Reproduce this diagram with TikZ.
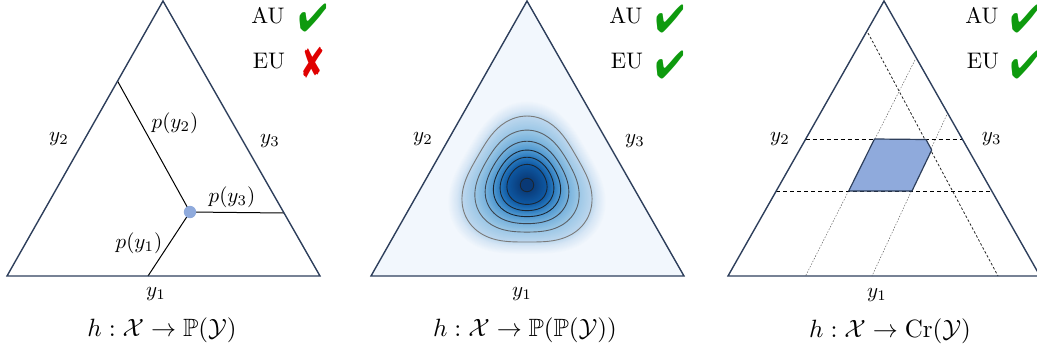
\documentclass[tikz,border=0pt]{standalone}
\usepackage{amssymb}
\usepackage{pifont}
\definecolor{navy}{HTML}{2E3F5C}
\definecolor{okgreen}{HTML}{0E9A0E}
\definecolor{nored}{HTML}{E00000}
\definecolor{dotblue}{HTML}{8FAADC}
\definecolor{bgblue}{HTML}{F2F7FD}
\definecolor{b0}{HTML}{D6E6F5}
\definecolor{b1}{HTML}{BCD7EE}
\definecolor{b2}{HTML}{9BC7E6}
\definecolor{b3}{HTML}{76B1DC}
\definecolor{b4}{HTML}{4E97D0}
\definecolor{b5}{HTML}{2777BD}
\definecolor{b6}{HTML}{0E58A2}
\definecolor{b7}{HTML}{093672}
\definecolor{cA}{HTML}{7A7A7A}
\definecolor{cB}{HTML}{5C6268}
\definecolor{cC}{HTML}{3A4450}
\definecolor{cD}{HTML}{1A2633}
\tikzset{
  tri/.style={draw=navy, line width=1.4pt, line join=miter},
  seg/.style={draw=black, line width=1pt},
  lab/.style={font=\normalsize, inner sep=0pt, scale=2.1},
  capt/.style={font=\normalsize, inner sep=0pt, scale=2.5},
  unc/.style={font=\normalsize, inner sep=0pt, scale=2.25},
  okmark/.style={text=okgreen, font=\normalsize, inner sep=0pt, scale=3.9},
  nomark/.style={text=nored, font=\normalsize, inner sep=0pt, scale=4.3},
  hdash/.style={draw=black, line width=0.8pt, dash pattern=on 4pt off 3pt},
  adash/.style={draw=black!85, line width=0.8pt, dash pattern=on 2.5pt off 2pt},
  bdot/.style={draw=black!60, line width=0.5pt, dash pattern=on 1.5pt off 1.5pt},
  cont/.style={line width=0.9pt}
}
\newcommand{\yes}{\scalebox{0.88}[1]{\ding{52}}}
\newcommand{\nope}{\scalebox{0.74}[1]{\ding{56}}}
% rounded triangle contour of radius #1, triangularity #2
\newcommand{\rtri}[2]{plot[smooth cycle, domain=0:354, samples=60]
  ({#1*(1+#2*cos(3*(\x-90)))*cos(\x)}, {-#1*(1+#2*cos(3*(\x-90)))*sin(\x)})}
% band of nested fills from radius #1 (colour #3) to radius #2 (colour #4), #5 steps
\newcommand{\band}[5]{%
  \foreach \j in {0,...,#5}{%
    \pgfmathsetmacro\R{#1-(#1-#2)*\j/(#5+1)}%
    \pgfmathsetmacro\a{0.095*min(1,\R/63)}%
    \pgfmathsetmacro\p{100*\j/(#5+1)}%
    \colorlet{lc}{#4!\p!#3}%
    \fill[lc] \rtri{\R}{\a};%
  }}
\begin{document}
\begin{tikzpicture}[x=1pt,y=-1pt]
\useasboundingbox (0,0) rectangle (1037,354);

% ---------------- Panel 1 ----------------
\coordinate (A1) at (163,1);
\coordinate (L1) at (7,276);
\coordinate (R1) at (320,276);
\coordinate (D) at (190,212);
\coordinate (P2) at (117.5,81);
\coordinate (P3) at (284,213);
\coordinate (P1) at (148,276);
\draw[seg] (D) -- (P2);
\draw[seg] (D) -- (P3);
\draw[seg] (D) -- (P1);
\draw[tri] (A1) -- (L1) -- (R1) -- cycle;
\fill[dotblue] (D) circle (6.2);
\node[lab] (y21) at (59,139) {$y_2$};
\node[lab] (y31) at (270,141) {$y_3$};
\node[lab] (y11) at (156,294) {$y_1$};
\node[lab] (py2) at (175,123) {$p(y_2)$};
\node[lab] (py3) at (232,197) {$p(y_3)$};
\node[lab] (py1) at (139,243) {$p(y_1)$};
\node[capt] (c1) at (162,330) {$h:\mathcal{X}\to\mathbb{P}(\mathcal{Y})$};
\node[unc] (au1) at (268,16) {AU};
\node[unc] (eu1) at (269,61) {EU};
\node[okmark] (ck1) at (313,18) {\yes};
\node[nomark] (cx1) at (313,63) {\nope};

% ---------------- Panel 2 ----------------
\coordinate (A2) at (527,1);
\coordinate (L2) at (371,276);
\coordinate (R2) at (684,276);
\fill[bgblue] (A2) -- (L2) -- (R2) -- cycle;
\begin{scope}[shift={(527,185)}]
  \band{77}{68}{bgblue}{b0}{9}
  \band{68}{63}{b0}{b1}{5}
  \band{63}{51}{b1}{b2}{10}
  \band{51}{41.2}{b2}{b3}{9}
  \band{41.2}{33.3}{b3}{b4}{7}
  \band{33.3}{26.7}{b4}{b5}{6}
  \band{26.7}{20}{b5}{b6}{6}
  \band{20}{4}{b6}{b7}{12}
  \foreach \R/\c in {63/cA, 51/cB, 41.2/cC, 33.3/cD, 26.7/cD, 20/cD}{
    \pgfmathsetmacro\a{0.095*min(1,\R/63)}
    \draw[cont, draw=\c] \rtri{\R}{\a};
  }
  \draw[cont, draw=cD] (0,0) circle (6.7);
\end{scope}
\draw[tri] (A2) -- (L2) -- (R2) -- cycle;
\node[lab] (y22) at (423,139) {$y_2$};
\node[lab] (y32) at (635,141) {$y_3$};
\node[lab] (y12) at (522,294) {$y_1$};
\node[capt] (c2) at (525,330) {$h:\mathcal{X}\to\mathbb{P}(\mathbb{P}(\mathcal{Y}))$};
\node[unc] (au2) at (626,16) {AU};
\node[unc] (eu2) at (627,61) {EU};
\node[okmark] (ck2) at (670,19) {\yes};
\node[okmark] (ck3) at (670,65) {\yes};

% ---------------- Panel 3 ----------------
\coordinate (A3) at (884,1);
\coordinate (L3) at (728,276);
\coordinate (R3) at (1040,276);
\coordinate (H1l) at (805.7,139);
\coordinate (H1r) at (962.3,139);
\coordinate (H2l) at (776.2,191);
\coordinate (H2r) at (991.8,191);
\coordinate (Qa) at (868,33);
\coordinate (Qb) at (998,276);
\coordinate (B1a) at (915,60);
\coordinate (B1b) at (805.5,276);
\coordinate (B2a) at (946.7,115);
\coordinate (B2b) at (872,276);
\coordinate (G1) at (874.5,139);
\coordinate (G2) at (926,139.5);
\coordinate (G3) at (931.7,150);
\coordinate (G4) at (912,191);
\coordinate (G5) at (848.7,191);
\draw[bdot] (B1a) -- (B1b);
\draw[bdot] (B2a) -- (B2b);
\draw[adash] (Qa) -- (Qb);
\draw[hdash] (H1l) -- (H1r);
\draw[hdash] (H2l) -- (H2r);
\draw[fill=dotblue, draw=navy, line width=1.2pt, line join=round] (G1) -- (G2) -- (G3) -- (G4) -- (G5) -- cycle;
\draw[tri] (A3) -- (L3) -- (R3) -- cycle;
\node[lab] (y23) at (780,139) {$y_2$};
\node[lab] (y33) at (991.7,139) {$y_3$};
\node[lab] (y13) at (877,295) {$y_1$};
\node[capt] (c3) at (890,331) {$h:\mathcal{X}\to\mathrm{Cr}(\mathcal{Y})$};
\node[unc] (au3) at (982,16) {AU};
\node[unc] (eu3) at (983,61) {EU};
\node[okmark] (ck4) at (1025,19) {\yes};
\node[okmark] (ck5) at (1025,65) {\yes};
\end{tikzpicture}
\end{document}
